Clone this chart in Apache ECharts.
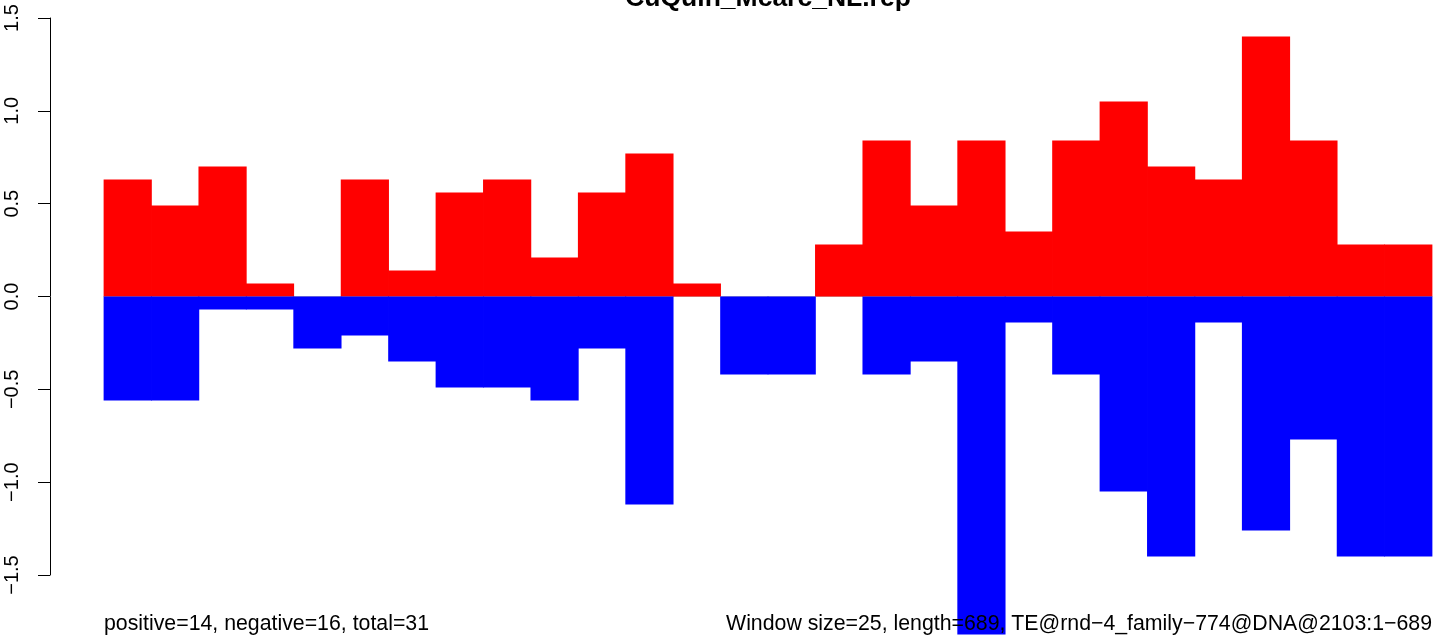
<!DOCTYPE html>
<html>
<head>
<meta charset="utf-8">
<script src="https://cdn.jsdelivr.net/npm/echarts@6/dist/echarts.min.js"></script>
<style>html,body{margin:0;padding:0;background:#fff}#c{width:1436px;height:641px}</style>
</head>
<body>
<div id="c"></div>
<script>
const windows = Array.from({length: 28}, (_, i) => 'w' + (i + 1));
const positiveValues = [0.63,0.49,0.70,0.07,0,0.63,0.14,0.56,0.63,0.21,0.56,0.77,0.07,0,0,0.28,0.84,0.49,0.84,0.35,0.84,1.05,0.70,0.63,1.40,0.84,0.28,0.28];
const negativeValues = [-0.56,-0.56,-0.07,-0.07,-0.28,-0.21,-0.35,-0.49,-0.49,-0.56,-0.28,-1.12,0,-0.42,-0.42,0,-0.42,-0.35,-1.82,-0.14,-0.42,-1.05,-1.40,-0.14,-1.26,-0.77,-1.40,-1.40];
const yTicks = [-1.5, -1.0, -0.5, 0.0, 0.5, 1.0, 1.5];
const titleText = 'CuQuin_Mcarc_NL.rep';
const leftNote = 'positive=14, negative=16, total=31';
const rightNote = 'Window size=25, length=689, TE@rnd\u22124_family\u2212774@DNA@2103:1\u2212689';

const chart = echarts.init(document.getElementById('c'), null, {renderer: 'canvas'});
const FONT = '"Liberation Sans", Arial, Helvetica, sans-serif';
chart.setOption({
  animation: false,
  backgroundColor: '#ffffff',
  grid: {left: 104, right: 4, top: 18, bottom: 66, containLabel: false},
  xAxis: {
    type: 'category',
    data: windows,
    boundaryGap: true,
    axisLine: {show: true, onZero: true, lineStyle: {color: '#BEBEBE', width: 1}},
    axisTick: {show: false},
    axisLabel: {show: false},
    splitLine: {show: false},
    z: 0
  },
  yAxis: {
    type: 'value',
    min: yTicks[0],
    max: yTicks[yTicks.length - 1],
    interval: 0.5,
    offset: 54,
    axisLine: {show: true, lineStyle: {color: '#000', width: 1}},
    axisTick: {show: true, length: 12, lineStyle: {color: '#000', width: 1}},
    splitLine: {show: false},
    axisLabel: {
      rotate: 90,
      margin: 28,
      fontSize: 20,
      fontFamily: FONT,
      color: '#000',
      formatter: v => (v < 0 ? '\u2212' : '') + Math.abs(v).toFixed(1)
    }
  },
  series: [
    {
      type: 'bar',
      data: positiveValues.map(v => (v === 0 ? '-' : v)),
      barGap: '-100%',
      barWidth: 48.2,
      itemStyle: {color: '#FF0000'},
      clip: false,
      z: 2
    },
    {
      type: 'bar',
      data: negativeValues.map(v => (v === 0 ? '-' : v)),
      barGap: '-100%',
      barWidth: 48.2,
      itemStyle: {color: '#0000FF'},
      clip: false,
      z: 2
    }
  ],
  graphic: [
    {type: 'text', x: 768, y: 12, z: 10,
     style: {text: titleText, align: 'center', verticalAlign: 'bottom', font: 'bold 26.5px ' + FONT, fill: '#000'}},
    {type: 'text', x: 104, y: 635, z: 10,
     style: {text: leftNote, align: 'left', verticalAlign: 'bottom', font: '21.3px ' + FONT, fill: '#000'}},
    {type: 'text', x: 1432, y: 635, z: 10,
     style: {text: rightNote, align: 'right', verticalAlign: 'bottom', font: '21.3px ' + FONT, fill: '#000'}}
  ]
});
</script>
</body>
</html>
